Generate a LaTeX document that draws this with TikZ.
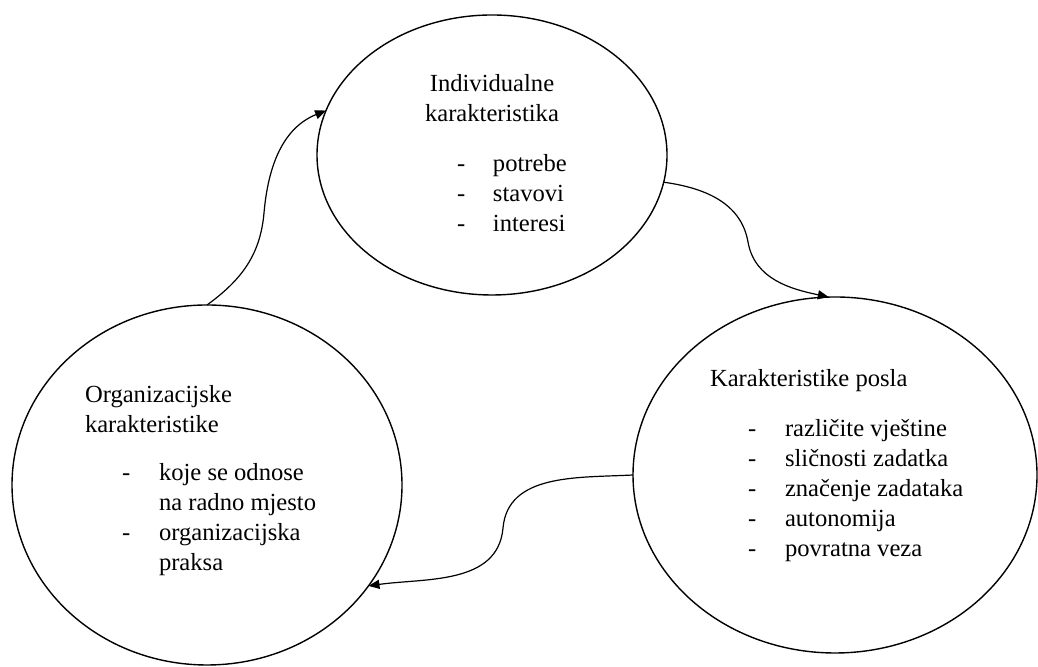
\documentclass[tikz,border=0pt]{standalone}
\usepackage{fontspec}
\setmainfont{Liberation Serif}
\usetikzlibrary{shapes.geometric,arrows.meta}
\begin{document}
\begin{tikzpicture}[x=0.5pt,y=0.5pt,
  bubble/.style={draw,ellipse,line width=0.7pt,inner sep=0pt,outer sep=0pt},
  txt/.style={inner sep=0pt,outer sep=0pt,font=\fontsize{12.3}{15}\selectfont},
  flow/.style={line width=0.6pt,-{Triangle[length=5.5pt,width=4.5pt]}}]
\useasboundingbox (0,0) rectangle (1038,667);
% ellipses
\node[bubble,minimum width=175pt,minimum height=140pt] (top) at (492,512) {};
\node[bubble,minimum width=195pt,minimum height=180pt] (bl) at (207,182) {};
\node[bubble,minimum width=202pt,minimum height=178pt] (br) at (835,192) {};
% texts
\node[txt,anchor=base] (toph) at (492,575) {\begin{tabular}[t]{@{}c@{}}Individualne\\karakteristika\end{tabular}};
\node[txt,anchor=base west] (topb) at (457,495) {\begin{tabular}[t]{@{}p{18pt}@{}l@{}}-&potrebe\\-&stavovi\\-&interesi\end{tabular}};
\node[txt,anchor=base west] (blh) at (85,264) {\begin{tabular}[t]{@{}l@{}}Organizacijske\\karakteristike\end{tabular}};
\node[txt,anchor=base west] (blb) at (122,186) {\begin{tabular}[t]{@{}p{18.5pt}@{}l@{}}-&koje se odnose\\&na radno mjesto\\-&organizacijska\\&praksa\end{tabular}};
\node[txt,anchor=base west] (brh) at (710,280) {Karakteristike posla};
\node[txt,anchor=base west] (brb) at (748,230) {\begin{tabular}[t]{@{}p{18.5pt}@{}l@{}}-&različite vještine\\-&sličnosti zadatka\\-&značenje zadataka\\-&autonomija\\-&povratna veza\end{tabular}};
% waypoints
\coordinate (c1) at (264,454);
\coordinate (c2) at (748,425);
\coordinate (c3) at (503,139);
% connectors
\draw[flow] (bl.north) to[out=36,in=-95] (c1) to[out=85,in=202] (top.165);
\draw[flow] (top.-9) to[out=-8,in=100] (c2) to[out=-80,in=168] (br.92);
\draw[flow] (br.west) to[out=183,in=85] (c3) to[out=-95,in=8] (bl.-32);
\end{tikzpicture}
\end{document}
